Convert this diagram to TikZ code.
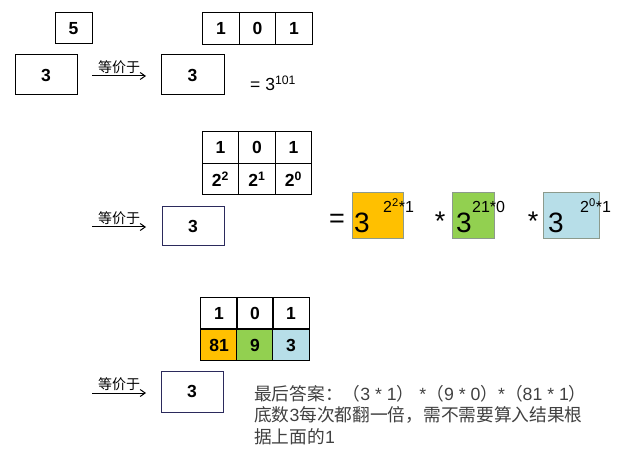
\documentclass[tikz,border=0pt]{standalone}
\usepackage{fontspec}
\setmainfont{Liberation Sans}
\newfontfamily\cjk{Noto Sans CJK SC}
\usetikzlibrary{arrows.meta}
\definecolor{navy}{HTML}{2B2A5C}
\definecolor{orng}{HTML}{FFC000}
\definecolor{grn}{HTML}{92D050}
\definecolor{lblue}{HTML}{B7DEE8}
\definecolor{boxgray}{HTML}{8C9A8C}
\definecolor{txtgray}{HTML}{404040}
\newcommand{\zhsup}[1]{\textsuperscript{#1}}
\begin{document}
\begin{tikzpicture}[x=1pt,y=-1pt,
  numbox/.style={draw=black, line width=1pt, inner sep=0pt,
    font=\fontsize{17.5}{17.5}\selectfont\bfseries},
  navybox/.style={numbox, draw=navy},
  cellbox/.style={numbox, minimum width=36.5pt, minimum height=31.5pt},
  colbox/.style={draw=boxgray, line width=1pt, inner sep=0pt},
  bigthree/.style={anchor=base west, inner sep=0pt, font=\fontsize{28}{28}\selectfont},
  expo/.style={anchor=base west, inner sep=0pt, font=\fontsize{16}{16}\selectfont},
  bigop/.style={inner sep=0pt, font=\fontsize{27}{27}\selectfont},
  arr/.style={-{Straight Barb[length=5pt,width=7pt]}, line width=1pt, black},
  arrlabel/.style={above, inner sep=1.5pt, font=\cjk\fontsize{14}{14}\selectfont},
  note/.style={anchor=west, inner sep=0pt, text=txtgray, font=\fontsize{17.7}{17.7}\selectfont}
]
\useasboundingbox (0,0) rectangle (634,470);

% ---------- row 1 ----------
\node[numbox, minimum width=37pt, minimum height=31pt] (b5) at (73.5,28.5) {5};
\node[numbox, minimum width=62pt, minimum height=40pt] (a3) at (46,75) {3};
\coordinate (a1s) at (92,76);
\coordinate (a1e) at (146,76);
\draw[arr] (a1s) -- node[arrlabel] {等价于} (a1e);
\node[numbox, minimum width=63pt, minimum height=40pt] (b3) at (192.5,75) {3};
\node[cellbox] (t1a) at (221,28.5) {1};
\node[cellbox] (t1b) at (257.5,28.5) {0};
\node[cellbox] (t1c) at (294,28.5) {1};
\node[anchor=base west, inner sep=0pt, font=\fontsize{17.5}{17.5}\selectfont] (eq1) at (250,91) {= 3\zhsup{101}};

% ---------- row 2 ----------
\node[cellbox] (t2a) at (220.5,147.5) {1};
\node[cellbox] (t2b) at (257,147.5) {0};
\node[cellbox] (t2c) at (293.5,147.5) {1};
\node[cellbox] (t2d) at (220.5,179) {2\zhsup{2}};
\node[cellbox] (t2e) at (257,179) {2\zhsup{1}};
\node[cellbox] (t2f) at (293.5,179) {2\zhsup{0}};
\coordinate (a2s) at (92,227);
\coordinate (a2e) at (146,227);
\draw[arr] (a2s) -- node[arrlabel] {等价于} (a2e);
\node[navybox, minimum width=62pt, minimum height=39pt] (c3) at (193,226.5) {3};
\node[bigop] (eq2) at (337,221) {=};
\node[colbox, fill=orng, minimum width=51pt, minimum height=46pt] (po) at (377.5,216) {};
\node[bigthree] (po3) at (354,233) {3};
\node[expo] (poe) at (383,213) {2\zhsup{2}*1};
\node[bigop] (m1) at (440,221) {*};
\node[colbox, fill=grn, minimum width=42pt, minimum height=46pt] (pg) at (473,216) {};
\node[bigthree] (pg3) at (456,233) {3};
\node[expo] (pge) at (472,213) {21*0};
\node[bigop] (m2) at (533,221) {*};
\node[colbox, fill=lblue, minimum width=56pt, minimum height=46pt] (pb) at (571,216) {};
\node[bigthree] (pb3) at (548,233) {3};
\node[expo] (pbe) at (580,213) {2\zhsup{0}*1};

% ---------- row 3 ----------
\node[cellbox] (t3a) at (219,313) {1};
\node[cellbox] (t3b) at (255,313) {0};
\node[cellbox] (t3c) at (291,313) {1};
\node[cellbox, fill=orng] (t3d) at (219,345) {81};
\node[cellbox, fill=grn] (t3e) at (255,345) {9};
\node[cellbox, fill=lblue] (t3f) at (291,345) {3};
\coordinate (a3s) at (92,393);
\coordinate (a3e) at (146,393);
\draw[arr] (a3s) -- node[arrlabel] {等价于} (a3e);
\node[navybox, minimum width=62pt, minimum height=41pt] (d3) at (192,391.5) {3};

\node[note] (n1) at (254,394) {{\cjk 最后答案：（}3 * 1{\cjk ）} *{\cjk （}9 * 0{\cjk ）}*{\cjk （}81 * 1{\cjk ）}};
\node[note] (n2) at (254,415) {{\cjk 底数}3{\cjk 每次都翻一倍，需不需要算入结果根}};
\node[note] (n3) at (254,437) {{\cjk 据上面的}1};
\end{tikzpicture}
\end{document}
